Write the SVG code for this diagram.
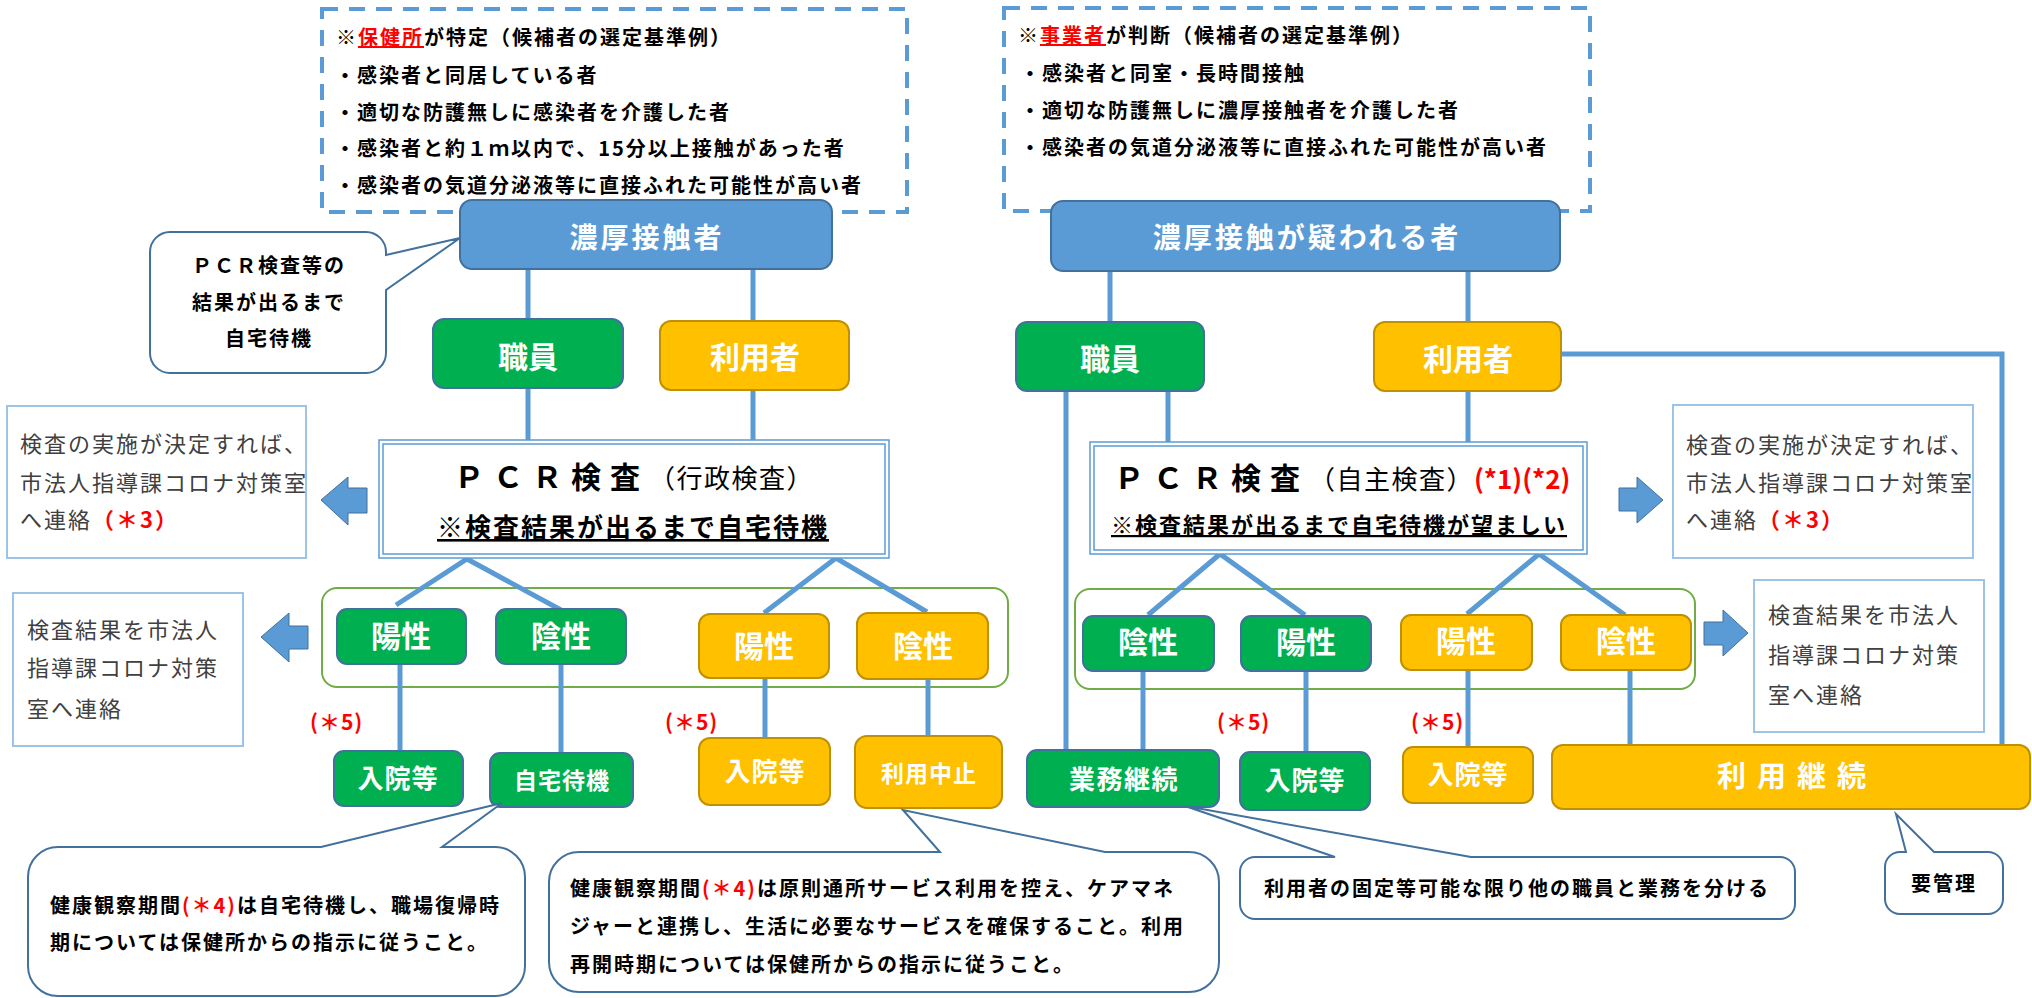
<svg xmlns="http://www.w3.org/2000/svg" width="2032" height="998" viewBox="0 0 2032 998">
<style>
text{font-family:'Noto Sans CJK JP','Noto Sans CJK SC','Noto Sans',sans-serif}
.sm{font-size:20px;letter-spacing:2px;font-weight:700;fill:#000}
.gr{font-size:22px;letter-spacing:2px;fill:#404040}
.lb{fill:#fff;font-weight:700;text-anchor:middle}
.red{fill:#FF0000}
.gn{fill:#00B050;stroke:#41719C;stroke-width:2}
.or{fill:#FFC000;stroke:#BF9000;stroke-width:2}
.bl{fill:#5B9BD5;stroke:#41719C;stroke-width:2}
.cn{fill:none;stroke:#5B9BD5;stroke-width:5}
.co{fill:#fff;stroke:#41719C;stroke-width:2}
.nb{fill:#fff;stroke:#9DC3E6;stroke-width:2}
.ar{fill:#5B9BD5;stroke:#41719C;stroke-width:1}
.dash{fill:none;stroke:#5B9BD5;stroke-width:4;stroke-dasharray:16 11}
.band{fill:none;stroke:#70AD47;stroke-width:2}
.pcr{fill:#fff;stroke:#5B9BD5;stroke-width:1.5}
.pcrin{fill:none;stroke:#5B9BD5;stroke-width:1.5}
.n5{font-size:21px;font-weight:700;fill:#FF0000;letter-spacing:1px}
</style>
<rect width="2032" height="998" fill="#fff"/>

<g id="criteria-left">
<rect class="dash" x="322" y="9" width="585" height="203"/>
<text class="sm" x="336" y="45">※<tspan class="red" text-decoration="underline">保健所</tspan>が特定（候補者の選定基準例）</text>
<text class="sm" x="335" y="83">・感染者と同居している者</text>
<text class="sm" x="335" y="120">・適切な防護無しに感染者を介護した者</text>
<text class="sm" x="335" y="156">・感染者と約１ｍ以内で、15分以上接触があった者</text>
<text class="sm" x="335" y="193">・感染者の気道分泌液等に直接ふれた可能性が高い者</text>
</g>
<g id="criteria-right">
<rect class="dash" x="1004" y="8" width="586" height="203"/>
<text class="sm" x="1018" y="43">※<tspan class="red" text-decoration="underline">事業者</tspan>が判断（候補者の選定基準例）</text>
<text class="sm" x="1020" y="81">・感染者と同室・長時間接触</text>
<text class="sm" x="1020" y="118">・適切な防護無しに濃厚接触者を介護した者</text>
<text class="sm" x="1020" y="155">・感染者の気道分泌液等に直接ふれた可能性が高い者</text>
</g>

<g id="bands">
<rect class="band" x="322" y="588" width="686" height="99" rx="15"/>
<rect class="band" x="1075" y="589" width="620" height="100" rx="15"/>
</g>

<g id="connectors">
<line class="cn" x1="528" y1="269" x2="528" y2="319"/>
<line class="cn" x1="753" y1="269" x2="753" y2="321"/>
<line class="cn" x1="528" y1="388" x2="528" y2="440"/>
<line class="cn" x1="753" y1="390" x2="753" y2="440"/>
<polyline class="cn" points="396,605 467,559 561,610"/>
<polyline class="cn" points="764,613 836,558 927,612"/>
<line class="cn" x1="400" y1="664" x2="400" y2="751"/>
<line class="cn" x1="561" y1="664" x2="561" y2="753"/>
<line class="cn" x1="765" y1="678" x2="765" y2="738"/>
<line class="cn" x1="928" y1="679" x2="928" y2="736"/>
<line class="cn" x1="1110" y1="271" x2="1110" y2="322"/>
<line class="cn" x1="1468" y1="271" x2="1468" y2="322"/>
<line class="cn" x1="1066" y1="391" x2="1066" y2="750"/>
<line class="cn" x1="1168" y1="391" x2="1168" y2="442"/>
<line class="cn" x1="1468" y1="391" x2="1468" y2="442"/>
<polyline class="cn" points="1561,354 2002,354 2002,745"/>
<polyline class="cn" points="1148,615 1220,554 1305,615"/>
<polyline class="cn" points="1467,614 1539,554 1625,615"/>
<line class="cn" x1="1143" y1="671" x2="1143" y2="750"/>
<line class="cn" x1="1306" y1="671" x2="1306" y2="752"/>
<line class="cn" x1="1468" y1="670" x2="1468" y2="747"/>
<line class="cn" x1="1630" y1="670" x2="1630" y2="745"/>
</g>

<g id="close-contact">
<rect class="bl" x="460" y="200" width="372" height="69" rx="12"/>
<text class="lb" x="647" y="248" style="font-size:28px;letter-spacing:3px">濃厚接触者</text>
</g>
<g id="suspected-contact">
<rect class="bl" x="1051" y="201" width="509" height="70" rx="12"/>
<text class="lb" x="1307" y="248" style="font-size:28px;letter-spacing:3px">濃厚接触が疑われる者</text>
</g>

<g id="callout-wait">
<path class="co" d="M170,232 H366 A20,20 0 0 1 386,252 V255 L460,238 L386,290 V353 A20,20 0 0 1 366,373 H170 A20,20 0 0 1 150,353 V252 A20,20 0 0 1 170,232 Z"/>
<text class="sm" x="269" y="273" text-anchor="middle">ＰＣＲ検査等の</text>
<text class="sm" x="269" y="310" text-anchor="middle">結果が出るまで</text>
<text class="sm" x="269" y="346" text-anchor="middle">自宅待機</text>
</g>

<g id="staff-left">
<rect class="gn" x="433" y="319" width="190" height="69" rx="11"/>
<text class="lb" x="528" y="368" style="font-size:30px">職員</text>
</g>
<g id="user-left">
<rect class="or" x="660" y="321" width="189" height="69" rx="11"/>
<text class="lb" x="755" y="368" style="font-size:30px">利用者</text>
</g>
<g id="staff-right">
<rect class="gn" x="1016" y="322" width="188" height="69" rx="11"/>
<text class="lb" x="1110" y="370" style="font-size:30px">職員</text>
</g>
<g id="user-right">
<rect class="or" x="1374" y="322" width="187" height="69" rx="11"/>
<text class="lb" x="1468" y="370" style="font-size:30px">利用者</text>
</g>

<g id="pcr-admin">
<rect class="pcr" x="379" y="440" width="510" height="118"/>
<rect class="pcrin" x="383" y="444" width="502" height="110"/>
<text x="454" y="488" style="font-weight:700"><tspan style="font-size:30px;letter-spacing:9px">ＰＣＲ検査</tspan><tspan style="font-size:26px;letter-spacing:1.5px;font-weight:400">（行政検査）</tspan></text>
<text x="437" y="537" text-decoration="underline" style="font-size:26px;letter-spacing:2px;font-weight:700">※検査結果が出るまで自宅待機</text>
</g>
<g id="pcr-self">
<rect class="pcr" x="1090" y="442" width="497" height="112"/>
<rect class="pcrin" x="1094" y="446" width="489" height="104"/>
<text x="1114" y="489" style="font-weight:700"><tspan style="font-size:30px;letter-spacing:9px">ＰＣＲ検査</tspan><tspan style="font-size:26px;letter-spacing:1.5px;font-weight:400">（自主検査）</tspan><tspan class="red" style="font-size:26px">(*1)(*2)</tspan></text>
<text x="1111" y="533" text-decoration="underline" style="font-size:22px;letter-spacing:2px;font-weight:700">※検査結果が出るまで自宅待機が望ましい</text>
</g>

<g id="notice-left">
<rect class="nb" x="7" y="406" width="299" height="152"/>
<text class="gr" x="20" y="452">検査の実施が決定すれば、</text>
<text class="gr" x="20" y="491">市法人指導課コロナ対策室</text>
<text class="gr" x="20" y="528">へ連絡<tspan class="red" style="font-weight:700">（＊3）</tspan></text>
</g>
<g id="arrow-notice-left"><polygon class="ar" points="321,500 348,477 348,488 367,488 367,513 348,513 348,525"/></g>
<g id="notice-right">
<rect class="nb" x="1673" y="405" width="300" height="153"/>
<text class="gr" x="1686" y="453">検査の実施が決定すれば、</text>
<text class="gr" x="1686" y="491">市法人指導課コロナ対策室</text>
<text class="gr" x="1686" y="528">へ連絡<tspan class="red" style="font-weight:700">（＊3）</tspan></text>
</g>
<g id="arrow-notice-right"><polygon class="ar" points="1663,500 1637,477 1637,488 1619,488 1619,511 1637,511 1637,523"/></g>

<g id="result-left">
<rect class="nb" x="13" y="593" width="230" height="153"/>
<text class="gr" x="27" y="638">検査結果を市法人</text>
<text class="gr" x="27" y="676">指導課コロナ対策</text>
<text class="gr" x="27" y="717">室へ連絡</text>
</g>
<g id="arrow-result-left"><polygon class="ar" points="261,637 289,613 289,626 308,626 308,649 289,649 289,662"/></g>
<g id="result-right">
<rect class="nb" x="1754" y="580" width="230" height="152"/>
<text class="gr" x="1768" y="623">検査結果を市法人</text>
<text class="gr" x="1768" y="663">指導課コロナ対策</text>
<text class="gr" x="1768" y="703">室へ連絡</text>
</g>
<g id="arrow-result-right"><polygon class="ar" points="1748,633 1723,610 1723,622 1704,622 1704,645 1723,645 1723,656"/></g>

<g id="staff-pos-left">
<rect class="gn" x="337" y="609" width="129" height="55" rx="10"/>
<text class="lb" x="401" y="647" style="font-size:30px">陽性</text>
</g>
<g id="staff-neg-left">
<rect class="gn" x="496" y="609" width="130" height="55" rx="10"/>
<text class="lb" x="561" y="647" style="font-size:30px">陰性</text>
</g>
<g id="user-pos-left">
<rect class="or" x="699" y="614" width="130" height="64" rx="11"/>
<text class="lb" x="764" y="657" style="font-size:30px">陽性</text>
</g>
<g id="user-neg-left">
<rect class="or" x="857" y="613" width="131" height="66" rx="11"/>
<text class="lb" x="923" y="657" style="font-size:30px">陰性</text>
</g>

<g id="staff-neg-right">
<rect class="gn" x="1083" y="616" width="131" height="55" rx="10"/>
<text class="lb" x="1148" y="653" style="font-size:30px">陰性</text>
</g>
<g id="staff-pos-right">
<rect class="gn" x="1241" y="616" width="130" height="55" rx="10"/>
<text class="lb" x="1306" y="653" style="font-size:30px">陽性</text>
</g>
<g id="user-pos-right">
<rect class="or" x="1401" y="615" width="131" height="55" rx="10"/>
<text class="lb" x="1466" y="652" style="font-size:30px">陽性</text>
</g>
<g id="user-neg-right">
<rect class="or" x="1561" y="615" width="130" height="55" rx="10"/>
<text class="lb" x="1626" y="652" style="font-size:30px">陰性</text>
</g>

<g id="notes-5">
<text class="n5" x="310" y="730">(＊5)</text>
<text class="n5" x="665" y="730">(＊5)</text>
<text class="n5" x="1217" y="730">(＊5)</text>
<text class="n5" x="1411" y="730">(＊5)</text>
</g>

<g id="staff-hosp-left">
<rect class="gn" x="334" y="751" width="129" height="55" rx="10"/>
<text class="lb" x="398" y="788" style="font-size:26px;letter-spacing:1px">入院等</text>
</g>
<g id="staff-home">
<rect class="gn" x="490" y="753" width="143" height="54" rx="10"/>
<text class="lb" x="562" y="789" style="font-size:23px;letter-spacing:1px">自宅待機</text>
</g>
<g id="user-hosp-left">
<rect class="or" x="699" y="738" width="131" height="67" rx="11"/>
<text class="lb" x="765" y="781" style="font-size:26px;letter-spacing:1px">入院等</text>
</g>
<g id="user-stop">
<rect class="or" x="855" y="736" width="147" height="72" rx="12"/>
<text class="lb" x="929" y="782" style="font-size:23px;letter-spacing:1px">利用中止</text>
</g>
<g id="staff-continue">
<rect class="gn" x="1027" y="750" width="192" height="57" rx="10"/>
<text class="lb" x="1124" y="789" style="font-size:26px;letter-spacing:1.5px">業務継続</text>
</g>
<g id="staff-hosp-right">
<rect class="gn" x="1240" y="752" width="130" height="58" rx="10"/>
<text class="lb" x="1305" y="790" style="font-size:26px;letter-spacing:1px">入院等</text>
</g>
<g id="user-hosp-right">
<rect class="or" x="1403" y="747" width="130" height="56" rx="10"/>
<text class="lb" x="1468" y="784" style="font-size:26px;letter-spacing:1px">入院等</text>
</g>
<g id="user-continue">
<rect class="or" x="1552" y="745" width="478" height="64" rx="11"/>
<text class="lb" x="1797" y="787" style="font-size:29px;letter-spacing:11px">利用継続</text>
</g>

<g id="callout-staff-home">
<path class="co" d="M58,847 H321 L502,803 L442,847 H495 A30,30 0 0 1 525,877 V966 A30,30 0 0 1 495,996 H58 A30,30 0 0 1 28,966 V877 A30,30 0 0 1 58,847 Z"/>
<text class="sm" x="50" y="913">健康観察期間<tspan class="red">(＊4)</tspan>は自宅待機し、職場復帰時</text>
<text class="sm" x="50" y="950">期については保健所からの指示に従うこと。</text>
</g>
<g id="callout-user-stop">
<path class="co" d="M579,852 H940 L903,810 L1105,852 H1189 A30,30 0 0 1 1219,882 V962 A30,30 0 0 1 1189,992 H579 A30,30 0 0 1 549,962 V882 A30,30 0 0 1 579,852 Z"/>
<text class="sm" x="570" y="896">健康観察期間<tspan class="red">(＊4)</tspan>は原則通所サービス利用を控え、ケアマネ</text>
<text class="sm" x="570" y="934">ジャーと連携し、生活に必要なサービスを確保すること。利用</text>
<text class="sm" x="570" y="972">再開時期については保健所からの指示に従うこと。</text>
</g>
<g id="callout-staff-continue">
<path class="co" d="M1255,857 H1335 L1185,806 L1471,857 H1780 A15,15 0 0 1 1795,872 V904 A15,15 0 0 1 1780,919 H1255 A15,15 0 0 1 1240,904 V872 A15,15 0 0 1 1255,857 Z"/>
<text class="sm" x="1264" y="896">利用者の固定等可能な限り他の職員と業務を分ける</text>
</g>
<g id="callout-manage">
<path class="co" d="M1900,852 H1906 L1896,814 L1934,852 H1988 A15,15 0 0 1 2003,867 V899 A15,15 0 0 1 1988,914 H1900 A15,15 0 0 1 1885,899 V867 A15,15 0 0 1 1900,852 Z"/>
<text class="sm" x="1944" y="891" text-anchor="middle">要管理</text>
</g>
</svg>
